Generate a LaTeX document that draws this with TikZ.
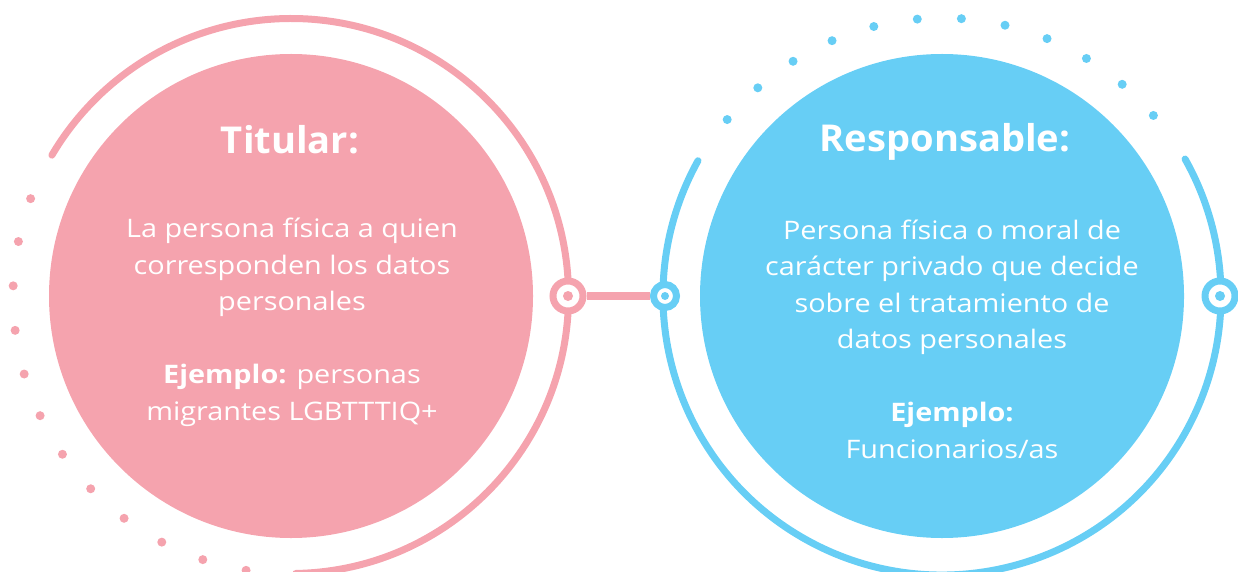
\documentclass[tikz,border=0pt]{standalone}
\usepackage{fontspec}
\setmainfont{Open Sans}[FakeStretch=1.13]
\newfontfamily\titlefont{Open Sans}[FakeStretch=1.03]
\usetikzlibrary{positioning}

\definecolor{rosa}{HTML}{F5A3AE}
\definecolor{celeste}{HTML}{67CEF5}

\begin{document}
\begin{tikzpicture}[
    x=1pt, y=1pt,
    disk/.style={circle, minimum size=484pt, inner sep=0pt},
    ring/.style={line width=7pt, line cap=round},
    marker/.style={circle, draw, fill=white, line width=7pt, inner sep=0pt},
    title/.style={text=white, font=\titlefont\fontsize{37}{44}\selectfont\bfseries},
    body/.style={text=white, align=center, font=\fontsize{25.5}{36.5}\selectfont}
]
\useasboundingbox (0,0) rectangle (1238,571);

% Disks
\node[disk, fill=rosa] (titular) at (291,275) {};
\node[disk, fill=celeste] (responsable) at (942,275) {};

% Rings and dots
\draw[ring, rosa] (titular.center) ++(-89:277.5) arc[start angle=-89, end angle=149.5, radius=277.5];
\foreach \a in {0,...,11}
    \fill[rosa] (titular.center) ++({159.5+9.2*\a}:278) circle[radius=4.5];
\draw[ring, celeste] (responsable.center) ++(151:279) arc[start angle=151, end angle=389.4, radius=279];
\foreach \a in {0,...,11}
    \fill[celeste] (responsable.center) ++({40.5+9.1*\a}:278) circle[radius=4.5];

% Markers
\node[marker, draw=rosa, minimum size=30pt] (markT) at (568,275) {};
\fill[rosa] (markT.center) circle[radius=5];
\node[marker, draw=celeste, minimum size=23pt] (markR) at (665,275) {};
\fill[celeste] (markR.center) circle[radius=4];
\node[marker, draw=celeste, minimum size=30pt] (markE) at (1220,275) {};
\fill[celeste] (markE.center) circle[radius=5];

% Connector
\draw[rosa, line width=8pt] (markT) -- (markR);

% Texts
\node[title] (titT) at (290,431) {Titular:};
\node[body] (txtT) at (292,248.5) {La persona física a quien\\corresponden los datos\\personales\\[36.5pt]\textbf{Ejemplo:} personas\\migrantes LGBTTTIQ+};
\node[title] (titR) at (945,429) {Responsable:};
\node[body] (txtR) at (952,232) {Persona física o moral de\\carácter privado que decide\\sobre el tratamiento de\\datos personales\\[36.5pt]\textbf{Ejemplo:}\\Funcionarios/as};

\end{tikzpicture}
\end{document}
